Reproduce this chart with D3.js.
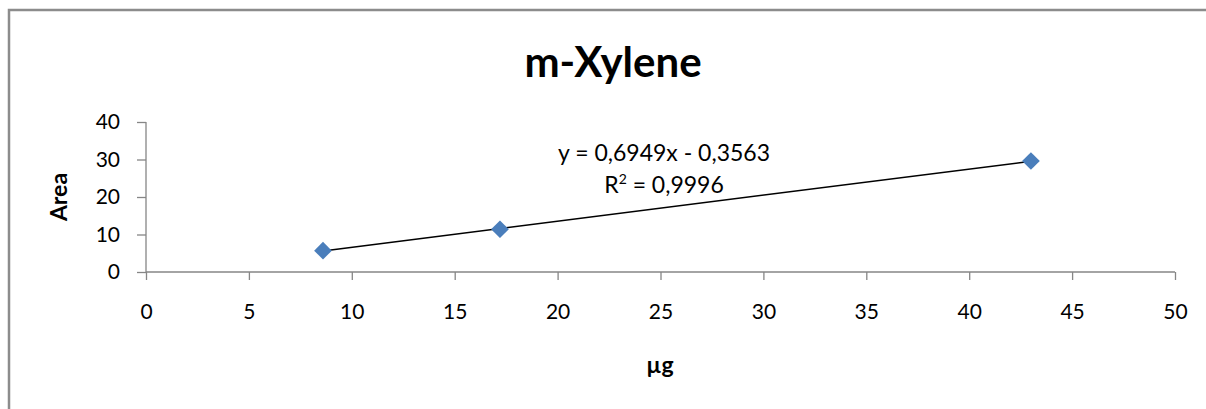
<!DOCTYPE html>
<html>
<head>
<meta charset="utf-8">
<script src="https://cdn.jsdelivr.net/npm/d3@7"></script>
<style>
  body { margin: 0; background: #fff; }
  text { font-family: Lato, "Open Sans", sans-serif; fill: #000; }
</style>
</head>
<body>
<div id="chart"></div>
<script>
// datos del gráfico
const titulo = "m-Xylene";
const masas = [8.6, 17.2, 43];      // µg
const areas = [5.7, 11.4, 29.6];    // Area
const pendiente = 0.6949;
const ordenada = -0.3563;
const textoEcuacion = "y = 0,6949x - 0,3563";
const textoR2 = ["R", "2", " = 0,9996"];
const ticksX = [0, 5, 10, 15, 20, 25, 30, 35, 40, 45, 50];
const ticksY = [0, 10, 20, 30, 40];

const width = 1206, height = 409;
const margen = {left: 146, right: 31, top: 122, bottom: 137};

const svg = d3.select("#chart").append("svg")
  .attr("width", width)
  .attr("height", height);

// marco del área del gráfico
svg.append("rect")
  .attr("x", 9).attr("y", 10)
  .attr("width", width + 10).attr("height", height + 10)
  .attr("fill", "#fff")
  .attr("stroke", "#8c8c8c")
  .attr("stroke-width", 2.5);

const x = d3.scaleLinear().domain([0, 50]).range([margen.left, width - margen.right]);
const y = d3.scaleLinear().domain([0, 40]).range([height - margen.bottom, margen.top]);

// título
svg.append("text")
  .attr("x", 613).attr("y", 77)
  .attr("text-anchor", "middle")
  .style("font-size", "42px").style("font-weight", "bold")
  .text(titulo);

// ejes
const ejeX = svg.append("g")
  .attr("transform", `translate(0,${y(0)})`)
  .call(d3.axisBottom(x).tickValues(ticksX).tickSize(8).tickPadding(24).tickFormat(d3.format("d")));
const ejeY = svg.append("g")
  .attr("transform", `translate(${x(0)},0)`)
  .call(d3.axisLeft(y).tickValues(ticksY).tickSize(9).tickPadding(17).tickFormat(d3.format("d")));

[ejeX, ejeY].forEach(g => {
  g.select(".domain").attr("stroke", "#868686").attr("stroke-width", 1.3);
  g.selectAll(".tick line").attr("stroke", "#868686").attr("stroke-width", 1.3);
  g.selectAll(".tick text").style("font-size", "21px").attr("fill", "#000");
});
ejeX.select(".domain").attr("d", `M${x(0)},0H${x(50)}`);
ejeY.select(".domain").attr("d", `M0,${y(0)}V${y(40)}`);

// títulos de ejes
svg.append("text")
  .attr("transform", `translate(67,197) rotate(-90)`)
  .attr("text-anchor", "middle")
  .style("font-size", "23px").style("font-weight", "bold")
  .text("Area");
svg.append("text")
  .attr("x", 660).attr("y", 373)
  .attr("text-anchor", "middle")
  .style("font-size", "23px").style("font-weight", "bold")
  .text("µg");

// línea de tendencia
const xMin = d3.min(masas), xMax = d3.max(masas);
svg.append("line")
  .attr("x1", x(xMin)).attr("y1", y(pendiente * xMin + ordenada))
  .attr("x2", x(xMax)).attr("y2", y(pendiente * xMax + ordenada))
  .attr("stroke", "#000").attr("stroke-width", 1.5);

// puntos
const datos = masas.map((m, i) => ({m: m, a: areas[i]}));
svg.selectAll(".punto")
  .data(datos)
  .join("path")
  .attr("class", "punto")
  .attr("d", d3.symbol().type(d3.symbolDiamond2).size(200))
  .attr("transform", d => `translate(${x(d.m)},${y(d.a)})`)
  .attr("fill", "#4a7ebb");

// ecuación
svg.append("text")
  .attr("x", 664).attr("y", 161)
  .attr("text-anchor", "middle")
  .style("font-size", "23px")
  .text(textoEcuacion);
const r2 = svg.append("text")
  .attr("x", 664).attr("y", 193)
  .attr("text-anchor", "middle")
  .style("font-size", "23px");
r2.append("tspan").text(textoR2[0]);
r2.append("tspan").attr("dy", -9).style("font-size", "14px").text(textoR2[1]);
r2.append("tspan").attr("dy", 9).text(textoR2[2]);
</script>
</body>
</html>
